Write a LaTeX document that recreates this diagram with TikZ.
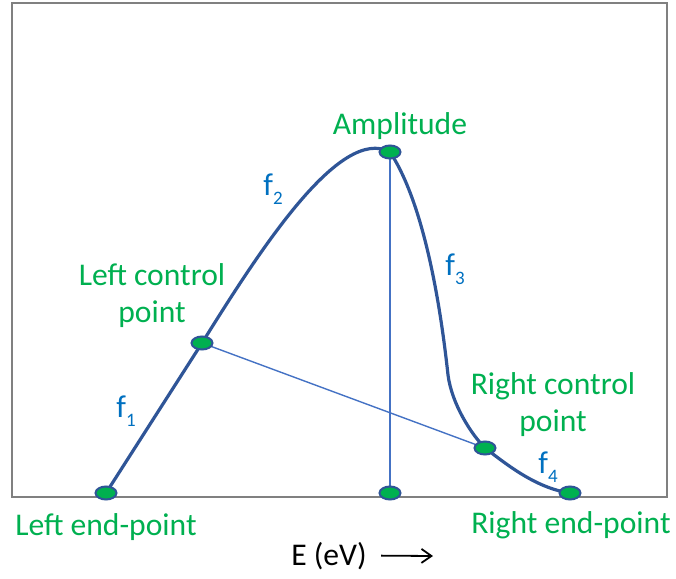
\documentclass[tikz,border=0pt]{standalone}
\usepackage{fontspec}
\setmainfont{Carlito}
\usetikzlibrary{arrows.meta, positioning, shapes.geometric, backgrounds}
\definecolor{lblgreen}{RGB}{0,176,80}
\definecolor{curveblue}{RGB}{47,85,151}
\definecolor{thinblue}{RGB}{68,114,196}
\definecolor{fblue}{RGB}{0,112,192}
\newcommand{\fsub}[1]{f\raisebox{-4.5pt}{\fontsize{9.5pt}{10pt}\selectfont #1}}

\begin{document}
\begin{tikzpicture}[
  x=0.5pt, y=-0.5pt,
  font=\fontsize{15.8pt}{18.5pt}\selectfont,
  dot/.style={
    ellipse, draw=curveblue, line width=1pt, fill=lblgreen,
    minimum width=10.5pt, minimum height=6.5pt, inner sep=0pt
  },
  lbl/.style={text=lblgreen, align=center, inner sep=0pt},
  flbl/.style={text=fblue, anchor=base west, inner sep=0pt},
  pulse/.style={draw=curveblue, line width=1.6pt, line join=round},
  guide/.style={draw=thinblue, line width=0.7pt},
  frame/.style={draw=black!50, line width=0.7pt},
  ax/.style={-{Straight Barb[length=5pt, width=7pt]}, line width=0.9pt}
]
\useasboundingbox (0,0) rectangle (676,579);

% ---- the six marked points
\node[dot] (lend)  at (106,493) {};
\node[dot] (lctrl) at (202,343) {};
\node[dot] (amp)   at (390,152) {};
\node[dot] (base)  at (390,493) {};
\node[dot] (rctrl) at (485,448) {};
\node[dot] (rend)  at (570,493) {};
\coordinate (f3mid) at (448,375);

% ---- frame, guide lines and the pulse, behind the points
\begin{scope}[on background layer]
  \draw[frame] (12,3) rectangle (667,497);
  \draw[guide] (lctrl.center) -- (rctrl.center);
  \draw[guide] (amp.center) -- (base.center);
  \draw[pulse] (lend.center) -- (lctrl.center)
    .. controls (260,250) and (340,125) .. (amp.center)
    .. controls (425,205) and (441,310) .. (f3mid)
    .. controls (452,405) and (472,435) .. (rctrl.center)
    .. controls (505,463) and (535,488) .. (rend.center);
\end{scope}

% ---- point names
\node[lbl, anchor=base] (amplbl) at (400,134) {Amplitude};
\node[lbl] (lctrllbl) at (152,296) {Left control\\point};
\node[lbl] (rctrllbl) at (553,405) {Right control\\point};
\node[lbl, anchor=base] (lendlbl) at (106,535) {Left end-point};
\node[lbl, anchor=base] (rendlbl) at (571,533) {Right end-point};

% ---- the four pieces
\node[flbl] (f1) at (116,417) {\fsub{1}};
\node[flbl] (f2) at (263,195) {\fsub{2}};
\node[flbl] (f3) at (445,275) {\fsub{3}};
\node[flbl] (f4) at (538,473) {\fsub{4}};

% ---- energy axis
\node[anchor=base, inner sep=0pt] (elbl) at (329,565) {E (eV)};
\coordinate (eend) at (433,556);
\draw[ax] ([xshift=7pt]elbl.east) -- (eend);

\end{tikzpicture}
\end{document}
